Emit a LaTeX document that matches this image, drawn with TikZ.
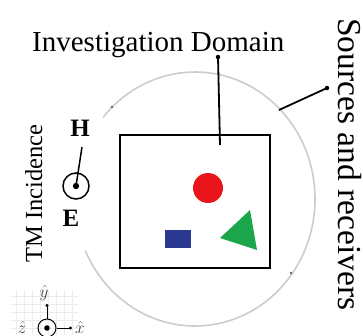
\documentclass[tikz,border=0pt]{standalone}
\usepackage{fontspec}
\setmainfont{Liberation Serif}
\usetikzlibrary{positioning, calc, arrows.meta}
\definecolor{objred}{HTML}{E8161B}
\definecolor{objblue}{HTML}{2B3990}
\definecolor{objgreen}{HTML}{1BA64B}

\begin{document}
\begin{tikzpicture}[
    x=1pt, y=-1pt,
    bigtext/.style={inner sep=0pt, font=\fontsize{29}{29}\selectfont},
    sidetext/.style={inner sep=0pt, font=\fontsize{33.5}{33.5}\selectfont, rotate=-90},
    tmtext/.style={inner sep=0pt, font=\fontsize{24.5}{24.5}\selectfont, rotate=90},
    field/.style={inner sep=0pt, font=\fontsize{25}{25}\selectfont\bfseries},
    axistext/.style={inner sep=0pt, font=\fontsize{16}{16}\selectfont, text=black!75},
    tip/.style={circle, fill, inner sep=0pt, minimum size=4.5pt},
    ring/.style={gray!40, line width=1.6pt},
    pointer/.style={line width=1.8pt}
]
    \useasboundingbox (0,0) rectangle (363,335);

    % Ring of sources and receivers
    \draw[ring] (195,199) ++(-140:120 and 127)
        arc[start angle=-140, end angle=156, x radius=120, y radius=127];
    \fill[black!60] (112,107) circle (1.3);
    \fill[black!60] (291,273) circle (1.3);

    % Investigation domain
    \node[draw, line width=1.8pt, inner sep=0pt, minimum width=150pt,
          minimum height=133pt, anchor=north west] (domain) at (119,134) {};

    % Scatterers
    \fill[objred] (208,188) circle (15);
    \fill[objblue] (165,230) rectangle (191,248);
    \fill[objgreen] (220,238) -- (250,210) -- (257,250) -- cycle;

    % Labels
    \node[bigtext, anchor=base west] (domlabel) at (32,51) {Investigation Domain};
    \node[tip] (domtip) at (218,57) {};
    \coordinate (domend) at (220,145);
    \draw[pointer] (domtip.center) -- (domend);

    \node[sidetext, anchor=base west] (srclabel) at (338,18) {Sources and receivers};
    \node[tip] (srctip) at (327,88) {};
    \coordinate (srcend) at (279,110);
    \draw[pointer] (srctip.center) -- (srcend);

    \node[tmtext, anchor=base west] (tmlabel) at (42,263) {TM Incidence};

    % Field vectors
    \node[field] (hlabel) at (80,128) {H};
    \node[field] (elabel) at (71,218) {E};
    \node[circle, draw, line width=1.5pt, minimum size=26pt, inner sep=0pt] (efield) at (76,186) {};
    \fill (efield.center) circle (3.2);
    \coordinate (hfoot) at (82,147);
    \draw[line width=1.5pt] (hfoot) -- (efield.center);

    % Axes
    \draw[gray!15, step=8pt] (10,290) grid (78,335);
    \node[circle, draw, line width=1pt, minimum size=18pt, inner sep=0pt] (zaxis) at (47,328) {};
    \fill (zaxis.center) circle (2.8);
    \coordinate (yend) at (47,304);
    \coordinate (xend) at (72,328);
    \draw[line width=1pt, -{Circle[length=3pt]}] (zaxis.north) -- (yend);
    \draw[line width=1pt, -{Circle[length=3pt]}] (zaxis.east) -- (xend);
    \node[axistext] (ylab) at (44,293) {$\hat{y}$};
    \node[axistext] (xlab) at (80,327) {$\hat{x}$};
    \node[axistext] (zlab) at (22,327) {$\hat{z}$};
\end{tikzpicture}
\end{document}
